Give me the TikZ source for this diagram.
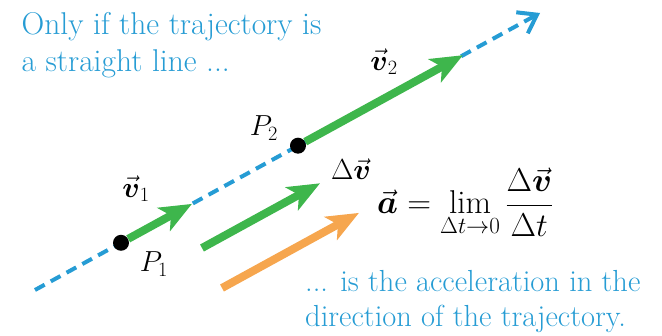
\documentclass[tikz,border=0pt]{standalone}
\usepackage{fix-cm}
\usepackage{amsmath}
\usepackage{fontspec}
\usetikzlibrary{arrows.meta, positioning}
\definecolor{trajblue}{RGB}{38,156,212}
\definecolor{velgreen}{RGB}{62,182,76}
\definecolor{accorange}{RGB}{246,166,78}
\newcommand{\bvec}[1]{\vec{\boldsymbol{#1}}}

\begin{document}
\begin{tikzpicture}[
  x=1pt, y=-1pt,
  traj/.style={trajblue, line width=4pt, dash pattern=on 11pt off 7pt,
               -{Straight Barb[length=17pt, width=24pt, line width=4pt]}},
  vel/.style={velgreen, line width=8pt,
              -{Stealth[length=32pt, width=26pt, inset=8pt]}},
  acc/.style={accorange, line width=8pt,
              -{Stealth[length=32pt, width=26pt, inset=8pt]}},
  dot/.style={circle, fill=black, inner sep=0pt, minimum size=16pt},
  lab/.style={inner sep=0pt, font=\fontsize{29}{31}\selectfont},
  note/.style={trajblue, align=left, inner sep=0pt, anchor=north west}
]
\useasboundingbox (0,0) rectangle (662,336);

% Trajectory
\coordinate (start) at (35,290);
\coordinate (end) at (540,13);
\coordinate (p1) at (121,242.8);
\coordinate (p2) at (298,145.7);
\draw[traj] (start) -- (end);

% Points on the trajectory
\node[dot] (P1) at (p1) {};
\node[dot] (P2) at (p2) {};

% Velocities
\coordinate (v1tip) at (192,203.9);
\coordinate (v2tip) at (463,55.2);
\draw[vel] (P1) -- (v1tip);
\draw[vel] (P2) -- (v2tip);

% Change of velocity and acceleration
\coordinate (dvtail) at (202,248);
\coordinate (dvtip) at (320,183.3);
\coordinate (acctail) at (222,288);
\coordinate (acctip) at (359,212.9);
\draw[vel] (dvtail) -- (dvtip);
\draw[acc] (acctail) -- (acctip);

% Labels
\node[lab] (V1) at (136,189) {$\bvec{v}_1$};
\node[lab] (V2) at (384,62) {$\bvec{v}_2$};
\node[lab] (LP1) at (154,264) {$P_1$};
\node[lab] (LP2) at (264,128) {$P_2$};
\node[lab] (DV) at (351,169) {$\Delta\bvec{v}$};
\node[lab, anchor=base west, font=\fontsize{33}{35}\selectfont] (EQ) at (377,214)
  {$\bvec{a} = \lim\limits_{\Delta t\to 0}\dfrac{\Delta\bvec{v}}{\Delta t}$};

% Notes
\node[note, font=\fontsize{31.5}{37.6}\selectfont] (TOP) at (21.5,12)
  {Only if the trajectory is\\a straight line ...};
\node[note, font=\fontsize{30.5}{35}\selectfont] (BOT) at (305,270.5)
  {... is the acceleration in the\\direction of the trajectory.};

\end{tikzpicture}
\end{document}
